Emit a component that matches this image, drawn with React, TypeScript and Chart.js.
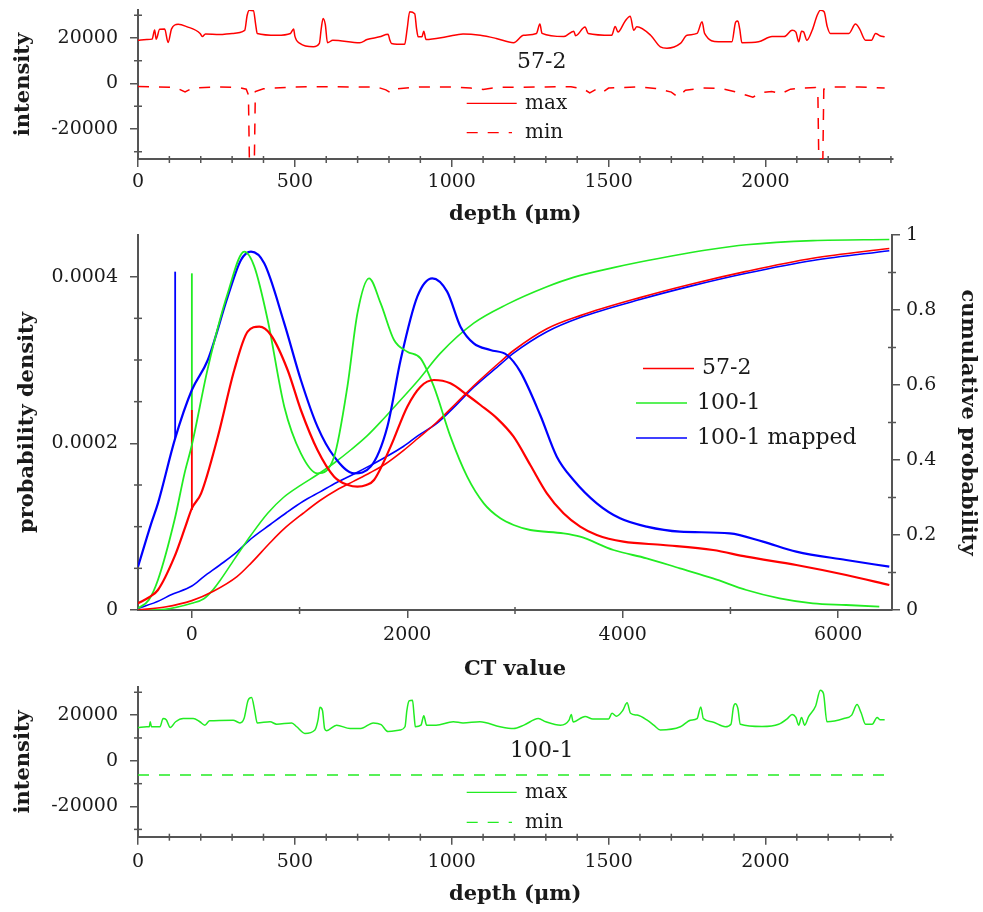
import React, { useEffect, useRef } from 'react';
import { Chart, registerables } from 'chart.js';
Chart.register(...registerables);

type Pt = [number, number];

const SERIF = '"DejaVu Serif", "Liberation Serif", serif';
const AXIS = '#555555';
const TEXT = '#1a1a1a';
const RED = 'rgb(255,0,0)';
const GREEN = 'rgb(34,236,34)';
const BLUE = 'rgb(0,0,255)';

// ---------- top panel: 57-2, intensity vs depth ----------
const max572: Pt[] = [[0,19000],[28,19300],[45,19500],[53,23500],[58,19500],[69,23800],[85,23900],[96,18000],[107,24000],[128,26000],[155,25000],[198,22000],[205,20600],[215,21800],[260,21500],[300,22000],[340,23300],[348,30000],[355,32200],[368,32000],[375,26000],[380,22000],[443,21200],[486,22000],[496,24000],[500,20800],[516,17600],[559,16100],[578,17600],[584,24000],[590,28600],[597,26000],[604,17900],[621,19000],[707,17900],[730,19300],[770,20500],[797,21600],[803,19000],[808,17600],[850,17200],[858,24000],[866,31500],[882,30700],[888,24000],[893,20500],[905,20500],[911,23000],[918,19300],[983,20500],[1036,21800],[1091,21200],[1142,19800],[1197,17900],[1229,21200],[1270,22000],[1281,26100],[1288,22000],[1357,20600],[1389,23000],[1395,21000],[1425,24800],[1435,22000],[1510,21200],[1521,25100],[1530,22600],[1553,27500],[1569,29600],[1580,23400],[1590,24900],[1634,21200],[1665,16100],[1686,15500],[1729,17600],[1750,21200],[1782,22000],[1798,27100],[1806,22000],[1850,18300],[1893,18300],[1905,27000],[1912,27500],[1918,24000],[1925,17900],[1978,18300],[2021,20600],[2060,20600],[2085,23400],[2097,22600],[2106,18300],[2115,23000],[2122,22600],[2132,19000],[2149,23400],[2165,30000],[2175,32200],[2187,31500],[2197,25000],[2207,22000],[2266,22000],[2287,26100],[2300,24000],[2319,19000],[2338,19000],[2351,22000],[2365,21000],[2380,20500]];
const min572: Pt[] = [[0,-1300],[60,-1500],[120,-1800],[150,-3700],[175,-2000],[250,-1500],[320,-1800],[345,-2500],[352,-5000],[355,-33200],[371,-33200],[374,-3500],[400,-2300],[500,-1500],[600,-1400],[700,-1600],[760,-1500],[790,-2800],[805,-4100],[820,-2400],[900,-1500],[1000,-1600],[1060,-2000],[1100,-2600],[1150,-1600],[1200,-1700],[1300,-1500],[1380,-1400],[1420,-2400],[1440,-4100],[1460,-2600],[1480,-4000],[1500,-2000],[1600,-1500],[1650,-2200],[1700,-3800],[1720,-5900],[1745,-3000],[1800,-2000],[1860,-2200],[1900,-3500],[1940,-5200],[1960,-6000],[1990,-4000],[2020,-3500],[2050,-4500],[2080,-2500],[2120,-2000],[2160,-1800],[2167,-3000],[2170,-33200],[2183,-33200],[2186,-2500],[2220,-1600],[2300,-1500],[2380,-2000]];

// ---------- bottom panel: 100-1, intensity vs depth ----------
const max1001: Pt[] = [[0,14600],[28,14900],[36,14900],[39,17100],[43,14900],[70,14900],[80,18500],[90,18000],[103,14600],[120,17100],[144,18500],[176,18500],[197,17100],[213,15600],[228,17500],[303,17800],[325,16600],[338,18500],[351,26500],[362,27700],[372,22000],[380,16600],[421,17100],[442,16000],[490,16600],[506,14900],[532,12000],[564,13500],[574,18000],[580,23400],[588,22000],[595,14000],[601,13200],[633,15600],[676,14100],[710,14100],[750,16600],[775,15800],[797,12800],[835,13500],[851,14900],[857,22000],[864,26200],[875,26500],[880,20000],[884,14900],[902,15600],[911,19700],[920,15600],[950,15600],[1005,17100],[1036,16600],[1090,17100],[1154,14900],[1197,14100],[1230,15600],[1276,18500],[1300,17100],[1347,15600],[1374,17800],[1381,20300],[1387,17000],[1425,19400],[1450,18300],[1500,18300],[1511,20800],[1525,19500],[1545,22000],[1559,25400],[1570,20800],[1591,20000],[1623,17800],[1645,15500],[1665,13500],[1729,14900],[1761,17800],[1782,18500],[1794,23600],[1802,18500],[1829,17100],[1872,14900],[1890,16000],[1898,23500],[1904,25000],[1912,23000],[1920,16000],[1989,15000],[2042,16000],[2070,18500],[2085,20300],[2097,19000],[2106,15600],[2115,19000],[2125,15600],[2138,19400],[2160,24000],[2175,30900],[2185,29500],[2196,17100],[2250,18500],[2275,20000],[2292,24600],[2305,21000],[2319,16000],[2340,16000],[2356,19000],[2365,18000],[2380,18000]];
const min1001: Pt[] = [[0,-6200],[2380,-6200]];

// ---------- middle panel: CT value distributions ----------
const pdf572: Pt[] = [[-500,8e-6],[-400,1.5e-5],[-315,2.4e-5],[-161,6.4e-5],[-60,1.0e-4],[0,1.22e-4],[86,1.4e-4],[241,2.08e-4],[394,2.88e-4],[518,3.34e-4],[626,3.4e-4],[734,3.3e-4],[889,2.88e-4],[1012,2.4e-4],[1166,1.92e-4],[1321,1.6e-4],[1450,1.5e-4],[1537,1.48e-4],[1620,1.5e-4],[1691,1.56e-4],[1845,1.96e-4],[2000,2.44e-4],[2123,2.68e-4],[2247,2.76e-4],[2400,2.72e-4],[2556,2.58e-4],[2679,2.46e-4],[2833,2.3e-4],[2987,2.08e-4],[3142,1.74e-4],[3296,1.4e-4],[3450,1.16e-4],[3605,1.0e-4],[3759,9.0e-5],[4006,8.2e-5],[4376,7.8e-5],[4839,7.2e-5],[5148,6.4e-5],[5611,5.4e-5],[6074,4.2e-5],[6475,3.0e-5]];
const spike572: Pt[] = [[0,1.2e-4],[0,2.4e-4]];
const pdf1001: Pt[] = [[-500,2e-6],[-400,1.2e-5],[-315,3.6e-5],[-161,1.08e-4],[-68,1.64e-4],[0,1.98e-4],[148,2.9e-4],[333,3.8e-4],[487,4.3e-4],[580,4.12e-4],[704,3.48e-4],[858,2.44e-4],[1012,1.88e-4],[1166,1.64e-4],[1321,1.84e-4],[1444,2.68e-4],[1537,3.56e-4],[1645,3.98e-4],[1753,3.68e-4],[1877,3.24e-4],[2000,3.1e-4],[2123,3.02e-4],[2247,2.68e-4],[2401,2.08e-4],[2556,1.6e-4],[2710,1.28e-4],[2864,1.1e-4],[2987,1.02e-4],[3142,9.6e-5],[3450,9.2e-5],[3605,8.8e-5],[3914,7.2e-5],[4222,6.2e-5],[4531,5.0e-5],[4839,3.8e-5],[5148,2.4e-5],[5457,1.4e-5],[5765,8e-6],[6074,6e-6],[6382,4e-6]];
const spike1001: Pt[] = [[0,1.98e-4],[0,4.04e-4]];
const pdf1001mapped: Pt[] = [[-500,5.2e-5],[-377,1.04e-4],[-315,1.28e-4],[-155,2.06e-4],[0,2.64e-4],[148,3.0e-4],[333,3.76e-4],[456,4.2e-4],[549,4.3e-4],[672,4.16e-4],[858,3.44e-4],[1012,2.76e-4],[1166,2.2e-4],[1321,1.84e-4],[1506,1.64e-4],[1660,1.72e-4],[1815,2.2e-4],[1938,3.0e-4],[2093,3.76e-4],[2232,3.98e-4],[2370,3.82e-4],[2494,3.4e-4],[2617,3.2e-4],[2771,3.12e-4],[2925,3.06e-4],[3049,2.86e-4],[3234,2.34e-4],[3388,1.84e-4],[3543,1.56e-4],[3759,1.28e-4],[3975,1.1e-4],[4222,1.0e-4],[4531,9.4e-5],[4994,9.2e-5],[5302,8.2e-5],[5611,7.0e-5],[6074,6.0e-5],[6475,5.2e-5]];
const spike1001mapped: Pt[] = [[-155,2.06e-4],[-155,4.06e-4]];
const cdf572: Pt[] = [[-500,0],[-250,0.008],[0,0.025],[200,0.05],[419,0.089],[550,0.125],[728,0.18],[850,0.215],[1034,0.258],[1190,0.292],[1345,0.32],[1500,0.343],[1654,0.366],[1800,0.39],[1963,0.425],[2100,0.458],[2271,0.5],[2456,0.552],[2617,0.598],[2864,0.662],[2987,0.692],[3296,0.75],[3605,0.785],[4160,0.833],[4650,0.87],[5148,0.903],[5765,0.938],[6475,0.964]];
const cdf1001: Pt[] = [[-500,0],[-250,0.002],[0,0.018],[111,0.03],[200,0.055],[265,0.08],[394,0.135],[550,0.2],[704,0.258],[850,0.3],[1012,0.333],[1160,0.36],[1321,0.392],[1480,0.428],[1629,0.465],[1780,0.51],[1938,0.56],[2100,0.612],[2308,0.685],[2617,0.765],[2925,0.815],[3296,0.862],[3543,0.887],[3914,0.913],[4160,0.928],[4531,0.948],[4778,0.96],[5148,0.974],[5765,0.985],[6475,0.988]];
const cdf1001mapped: Pt[] = [[-500,0.004],[-300,0.025],[-198,0.04],[0,0.064],[111,0.089],[260,0.12],[419,0.155],[550,0.19],[728,0.228],[880,0.26],[1034,0.29],[1190,0.315],[1345,0.34],[1500,0.362],[1654,0.385],[1800,0.408],[1963,0.436],[2100,0.465],[2271,0.497],[2456,0.547],[2617,0.594],[2864,0.655],[2987,0.685],[3296,0.742],[3605,0.78],[4160,0.828],[4650,0.865],[5148,0.898],[5765,0.932],[6475,0.958]];

// ---------- tick values ----------
const depthTicks = [0, 500, 1000, 1500, 2000];
const depthMinor = [100,200,300,400,600,700,800,900,1100,1200,1300,1400,1600,1700,1800,1900,2100,2200,2300,2400];
const intensityTicks = [-20000, 0, 20000];
const intensityMinor = [-30000, -10000, 10000, 30000];
const ctTicks = [0, 2000, 4000, 6000];
const ctMinor = [1000, 3000, 5000];
const densityTicks = [0, 0.0002, 0.0004];
const densityMinor = [0.00005, 0.0001, 0.00015, 0.00025, 0.0003, 0.00035];
const cumTicks = [0, 0.2, 0.4, 0.6, 0.8, 1];
const cumMinor = [0.1, 0.3, 0.5, 0.7, 0.9];

const toXY = (a: Pt[]) => a.map(([x, y]) => ({ x, y }));

function minorPlugin(defs: { axis: string; values: number[] }[]) {
  return {
    id: 'minorTicks',
    afterDraw(chart: any) {
      const ctx = chart.ctx;
      ctx.save();
      ctx.strokeStyle = AXIS;
      ctx.lineWidth = 1.5;
      for (const d of defs) {
        const s = chart.scales[d.axis];
        for (const v of d.values) {
          ctx.beginPath();
          if (s.isHorizontal()) {
            const x = s.getPixelForValue(v);
            ctx.moveTo(x, s.top - 3);
            ctx.lineTo(x, s.top + 4);
          } else {
            const y = s.getPixelForValue(v);
            const x = s.position === 'left' ? s.right : s.left;
            ctx.moveTo(x - 4, y);
            ctx.lineTo(x + 4, y);
          }
          ctx.stroke();
        }
      }
      ctx.restore();
    },
  };
}

type LegItem = { ds?: number; text?: string; x1?: number; x2?: number; y: number; tx: number; size: number };
function legendPlugin(items: LegItem[]) {
  return {
    id: 'panelLegend',
    afterDraw(chart: any) {
      const ctx = chart.ctx;
      ctx.save();
      for (const it of items) {
        let text = it.text || '';
        if (it.ds !== undefined) {
          const ds = chart.data.datasets[it.ds];
          text = ds.label;
          ctx.strokeStyle = ds.borderColor;
          ctx.lineWidth = 1.3;
          ctx.setLineDash(ds.borderDash || []);
          ctx.beginPath();
          ctx.moveTo(it.x1, it.y);
          ctx.lineTo(it.x2, it.y);
          ctx.stroke();
          ctx.setLineDash([]);
        }
        ctx.fillStyle = TEXT;
        ctx.font = `${it.size}px ${SERIF}`;
        ctx.textBaseline = 'middle';
        ctx.textAlign = 'left';
        ctx.fillText(text, it.tx, it.y);
      }
      ctx.restore();
    },
  };
}

const tickFont = { family: SERIF, size: 19 };
const titleFont = { family: SERIF, size: 21, weight: 'bold' as const };

function fixedScale(opts: any, size: { width?: number; height?: number }, ticks: number[]) {
  return {
    ...opts,
    afterBuildTicks: (s: any) => {
      s.ticks = ticks.map((v) => ({ value: v }));
    },
    afterFit: (s: any) => {
      if (size.width !== undefined) s.width = size.width;
      if (size.height !== undefined) s.height = size.height;
      s.paddingTop = 0;
      s.paddingBottom = 0;
      s.paddingLeft = 0;
      s.paddingRight = 0;
    },
    border: { display: true, color: AXIS, width: 2 },
    grid: { display: true, drawOnChartArea: false, drawTicks: true, tickLength: 8, color: AXIS, lineWidth: 1.5 },
  };
}

function intensityConfig(maxPts: Pt[], minPts: Pt[], color: string, name: string, layout: any, legend: LegItem[]) {
  return {
    type: 'line' as const,
    data: {
      datasets: [
        { label: 'max', data: toXY(maxPts), borderColor: color, borderWidth: 1.5, pointRadius: 0, cubicInterpolationMode: 'monotone' as const, fill: false },
        { label: 'min', data: toXY(minPts), borderColor: color, borderWidth: 1.5, borderDash: [11, 10], pointRadius: 0, tension: 0, fill: false },
      ],
    },
    options: {
      responsive: false,
      animation: false as const,
      events: [],
      layout: { padding: { left: 0, right: 90.5, top: layout.top, bottom: 0 } },
      plugins: { legend: { display: false }, tooltip: { enabled: false } },
      scales: {
        x: fixedScale({
          type: 'linear', min: 0, max: 2405,
          ticks: { font: tickFont, color: TEXT, padding: layout.xTickPad, maxRotation: 0, autoSkip: false, callback: (v: any) => String(v) },
          title: { display: true, text: 'depth (μm)', font: titleFont, color: TEXT, padding: { top: 0, bottom: layout.xTitlePad } },
        }, { height: layout.xHeight }, depthTicks),
        y: fixedScale({
          type: 'linear', min: -33200, max: 32300,
          ticks: { font: tickFont, color: TEXT, padding: 12, autoSkip: false, callback: (v: any) => String(v) },
          title: { display: true, text: 'intensity', font: titleFont, color: TEXT, padding: { top: 11.4, bottom: 0 } },
        }, { width: 138 }, intensityTicks),
      },
    },
    plugins: [
      minorPlugin([{ axis: 'x', values: depthMinor }, { axis: 'y', values: intensityMinor }]),
      legendPlugin([{ text: name, y: layout.nameY, tx: layout.nameX, size: 22 }, ...legend]),
    ],
  };
}

function distConfig() {
  const line = (label: string, pts: Pt[], color: string, axis: string, w: number, smooth = true) => ({
    label, data: toXY(pts), borderColor: color, borderWidth: w, pointRadius: 0,
    cubicInterpolationMode: smooth ? ('monotone' as const) : ('default' as const), tension: 0,
    fill: false, yAxisID: axis,
  });
  return {
    type: 'line' as const,
    data: {
      datasets: [
        line('57-2', pdf572, RED, 'y', 2.2),
        line('100-1', pdf1001, GREEN, 'y', 1.8),
        line('100-1 mapped', pdf1001mapped, BLUE, 'y', 2.2),
        line('57-2 cumulative', cdf572, RED, 'y2', 1.6),
        line('100-1 cumulative', cdf1001, GREEN, 'y2', 1.6),
        line('100-1 mapped cumulative', cdf1001mapped, BLUE, 'y2', 1.6),
        line('57-2 spike', spike572, RED, 'y', 1.8, false),
        line('100-1 spike', spike1001, GREEN, 'y', 1.8, false),
        line('100-1 mapped spike', spike1001mapped, BLUE, 'y', 1.8, false),
      ],
    },
    options: {
      responsive: false,
      animation: false as const,
      events: [],
      layout: { padding: { left: 0, right: 0, top: 20, bottom: 0 } },
      plugins: { legend: { display: false }, tooltip: { enabled: false } },
      scales: {
        x: fixedScale({
          type: 'linear', min: -500, max: 6500,
          ticks: { font: tickFont, color: TEXT, padding: 6, maxRotation: 0, autoSkip: false, callback: (v: any) => String(v) },
          title: { display: true, text: 'CT value', font: titleFont, color: TEXT, padding: { top: 0, bottom: 0.4 } },
        }, { height: 73 }, ctTicks),
        y: fixedScale({
          type: 'linear', position: 'left', min: 0, max: 0.00045,
          ticks: { font: tickFont, color: TEXT, padding: 12, autoSkip: false, callback: (v: any) => String(v) },
          title: { display: true, text: 'probability density', font: titleFont, color: TEXT, padding: { top: 15, bottom: 0 } },
        }, { width: 138 }, densityTicks),
        y2: fixedScale({
          type: 'linear', position: 'right', min: 0, max: 1,
          ticks: { font: tickFont, color: TEXT, padding: 6, autoSkip: false, callback: (v: any) => String(v) },
          title: { display: true, text: 'cumulative probability', font: titleFont, color: TEXT, padding: { top: 3, bottom: 0 } },
        }, { width: 91 }, cumTicks),
      },
    },
    plugins: [
      minorPlugin([{ axis: 'x', values: ctMinor }, { axis: 'y', values: densityMinor }, { axis: 'y2', values: cumMinor }]),
      legendPlugin([
        { ds: 0, x1: 643, x2: 694, y: 153.5, tx: 702, size: 22 },
        { ds: 1, x1: 636, x2: 687, y: 188, tx: 697, size: 22 },
        { ds: 2, x1: 636, x2: 687, y: 223, tx: 697, size: 22 },
      ]),
    ],
  };
}

function ChartCanvas({ config, top, height }: { config: () => any; top: number; height: number }) {
  const ref = useRef<HTMLCanvasElement | null>(null);
  useEffect(() => {
    if (!ref.current) return;
    const chart = new Chart(ref.current, config());
    return () => chart.destroy();
  }, []);
  return (
    <canvas
      ref={ref}
      width={983}
      height={height}
      style={{ position: 'absolute', left: 0, top, width: 983, height }}
    />
  );
}

export default function App() {
  return (
    <div style={{ position: 'absolute', left: 0, top: 0, width: 983, height: 912, background: '#ffffff', overflow: 'hidden' }}>
      <ChartCanvas
        top={0}
        height={230}
        config={() =>
          intensityConfig(max572, min572, RED, '57-2',
            { top: 10, xHeight: 71, xTickPad: 4, xTitlePad: 2.4, nameX: 517, nameY: 62 },
            [
              { ds: 0, x1: 466.7, x2: 516.7, y: 103.3, tx: 525, size: 20 },
              { ds: 1, x1: 466.7, x2: 512, y: 132.7, tx: 525, size: 20 },
            ])
        }
      />
      <ChartCanvas top={215} height={468} config={distConfig} />
      <ChartCanvas
        top={683}
        height={229}
        config={() =>
          intensityConfig(max1001, min1001, GREEN, '100-1',
            { top: 4, xHeight: 75.3, xTickPad: 6, xTitlePad: 4.4, nameX: 510, nameY: 68.5 },
            [
              { ds: 0, x1: 466.7, x2: 516.7, y: 109.3, tx: 525, size: 20 },
              { ds: 1, x1: 466.7, x2: 512, y: 139.3, tx: 525, size: 20 },
            ])
        }
      />
    </div>
  );
}
